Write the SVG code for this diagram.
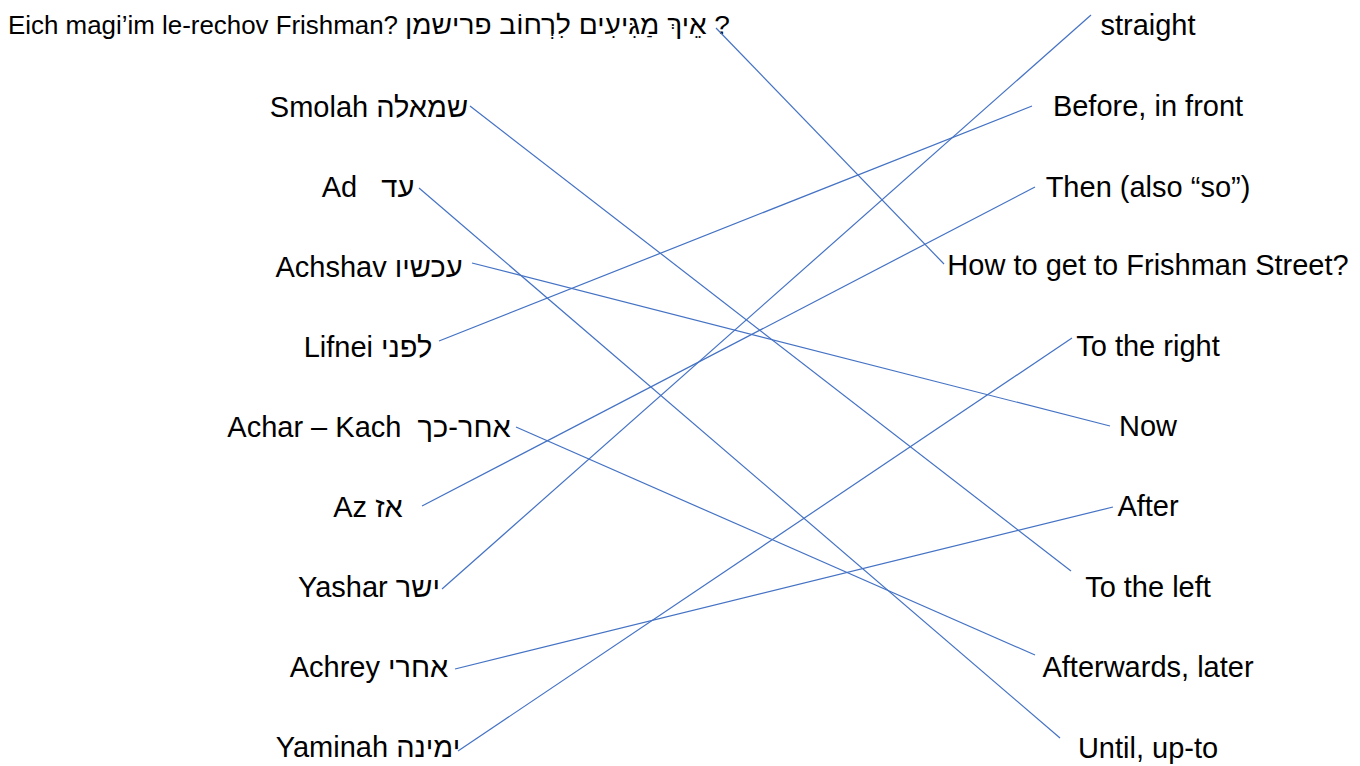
<svg xmlns="http://www.w3.org/2000/svg" width="1360" height="766" viewBox="0 0 1360 766">
<style>
  text { font-family: "Liberation Sans", "DejaVu Sans", sans-serif; fill: #000; }
  .lbl { font-size: 29px; text-anchor: middle; white-space: pre; }
  .title { font-size: 26px; white-space: pre; }
  .conn line { stroke: #4472C4; stroke-width: 1.2; fill: none; }
</style>
<rect width="1360" height="766" fill="#fff"/>
<g id="title">
  <text class="title" x="8" y="34" textLength="390" lengthAdjust="spacingAndGlyphs">Eich magi’im le-rechov Frishman?</text>
  <text class="title" x="405" y="34" textLength="325" lengthAdjust="spacingAndGlyphs" xml:space="preserve">אֵיךְ מַגִּיעִים לִרְחוֹב פרישמן ?</text>
</g>
<g id="left-smolah"><text class="lbl" x="369" y="117">Smolah שמאלה</text></g>
<g id="left-ad"><text class="lbl" x="368" y="197" xml:space="preserve">Ad   עד</text></g>
<g id="left-achshav"><text class="lbl" x="369" y="277">Achshav עכשיו</text></g>
<g id="left-lifnei"><text class="lbl" x="368" y="357">Lifnei לפני</text></g>
<g id="left-acharkach"><text class="lbl" x="369" y="437" xml:space="preserve">Achar – Kach  אחר-כך</text></g>
<g id="left-az"><text class="lbl" x="368" y="517">Az אז</text></g>
<g id="left-yashar"><text class="lbl" x="369" y="597">Yashar ישר</text></g>
<g id="left-achrey"><text class="lbl" x="369" y="677">Achrey אחרי</text></g>
<g id="left-yaminah"><text class="lbl" x="368" y="757">Yaminah ימינה</text></g>
<g id="right-straight"><text class="lbl" x="1148" y="35">straight</text></g>
<g id="right-before"><text class="lbl" x="1148" y="116">Before, in front</text></g>
<g id="right-then"><text class="lbl" x="1148" y="197">Then (also “so”)</text></g>
<g id="right-how"><text class="lbl" x="1148" y="275">How to get to Frishman Street?</text></g>
<g id="right-right"><text class="lbl" x="1148" y="356">To the right</text></g>
<g id="right-now"><text class="lbl" x="1148" y="436">Now</text></g>
<g id="right-after"><text class="lbl" x="1148" y="516">After</text></g>
<g id="right-left"><text class="lbl" x="1148" y="597">To the left</text></g>
<g id="right-afterwards"><text class="lbl" x="1148" y="677">Afterwards, later</text></g>
<g id="right-until"><text class="lbl" x="1148" y="758">Until, up-to</text></g>
<g id="connectors" class="conn">
  <line x1="716" y1="28" x2="944" y2="264"/>
  <line x1="470" y1="106" x2="1071" y2="571"/>
  <line x1="419" y1="188" x2="1060" y2="738"/>
  <line x1="472" y1="263" x2="1110" y2="426"/>
  <line x1="439" y1="341" x2="1032" y2="106"/>
  <line x1="516" y1="427" x2="1035" y2="655"/>
  <line x1="422" y1="506" x2="1035" y2="187"/>
  <line x1="442" y1="589" x2="1091" y2="15"/>
  <line x1="455" y1="669" x2="1113" y2="507"/>
  <line x1="458" y1="751" x2="1072" y2="338"/>
</g>
</svg>
